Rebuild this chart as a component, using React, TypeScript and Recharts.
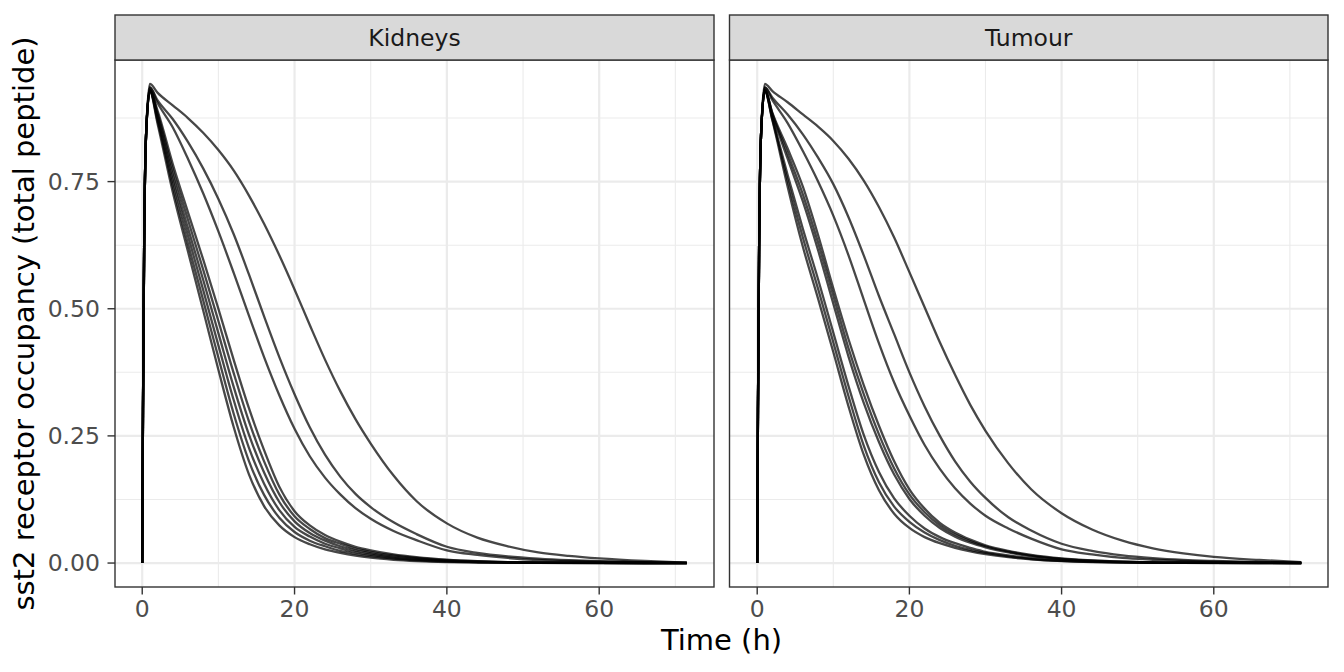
import { LineChart, Line, XAxis, YAxis, CartesianGrid } from 'recharts'

// sampling times (h)
const times = [0, 0.1, 0.25, 0.5, 1, 2, 4, 6, 8, 10, 12, 14, 16, 18, 20, 22, 24, 26, 28, 30, 33, 36, 40, 44, 48, 52, 56, 60, 66, 71.5]

// kidneys, one array per simulated run
const kidneys1 = [0, .3, .62, .84, .942, .925, .9, .875, .846, .812, .772, .723, .667, .605, .538, .468, .4, .338, .283, .235, .172, .122, .078, .05, .033, .021, .014, .009, .004, .001]
const kidneys2 = [0, .3, .62, .84, .935, .91, .873, .828, .776, .716, .647, .568, .485, .405, .332, .267, .213, .17, .136, .11, .08, .057, .032, .02, .013, .0085, .0055, .0036, .0018, .0008]
const kidneys3 = [0, .3, .62, .84, .935, .905, .857, .795, .727, .652, .571, .487, .405, .33, .264, .21, .168, .135, .108, .087, .063, .045, .025, .016, .01, .006, .004, .0025, .0012, .0005]
const kidneys4 = [0, .3, .62, .84, .928, .865, .73, .613, .497, .38, .268, .175, .112, .074, .051, .037, .027, .02, .0145, .0105, .0065, .004, .002, .001, .0005, .00025, .00012, .00006, .00002, 0]
const kidneys5 = [0, .3, .62, .84, .928, .87, .741, .628, .517, .404, .294, .201, .134, .089, .061, .044, .033, .024, .018, .0134, .0086, .0055, .0029, .0015, .0008, .0004, .0002, .0001, .00004, 0]
const kidneys6 = [0, .3, .62, .84, .929, .875, .752, .644, .537, .428, .321, .227, .156, .104, .071, .052, .038, .029, .0215, .0163, .0107, .007, .0038, .0021, .0011, .0006, .0003, .00015, .00006, .00002]
const kidneys7 = [0, .3, .62, .84, .929, .88, .763, .659, .557, .452, .347, .253, .178, .12, .082, .059, .044, .033, .025, .0192, .0128, .0085, .0047, .0026, .0014, .0008, .0004, .0002, .00008, .00003]
const kidneys8 = [0, .3, .62, .84, .93, .885, .774, .675, .577, .476, .374, .279, .2, .135, .092, .067, .049, .038, .0285, .0221, .0149, .01, .0056, .0031, .0017, .0009, .0005, .00025, .0001, .00004]
const kidneys9 = [0, .3, .62, .84, .93, .89, .785, .69, .597, .5, .4, .305, .222, .15, .102, .074, .055, .042, .032, .025, .017, .0115, .0065, .0036, .002, .0011, .0006, .0003, .00012, .00005]

// tumour
const tumour1 = [0, .3, .62, .84, .942, .928, .906, .882, .858, .83, .795, .752, .7, .64, .572, .503, .434, .37, .311, .26, .196, .145, .098, .066, .044, .029, .019, .012, .006, .002]
const tumour2 = [0, .3, .62, .84, .935, .915, .882, .843, .797, .745, .68, .605, .525, .45, .375, .308, .25, .2, .16, .128, .09, .064, .038, .024, .015, .0095, .006, .004, .002, .001]
const tumour3 = [0, .3, .62, .84, .935, .91, .865, .81, .75, .683, .605, .518, .432, .355, .29, .232, .185, .147, .117, .093, .068, .048, .027, .017, .01, .0065, .004, .0025, .0012, .0005]
const tumour4 = [0, .3, .62, .84, .928, .87, .74, .622, .52, .415, .308, .213, .143, .097, .069, .051, .039, .03, .023, .0175, .0115, .0075, .004, .002, .001, .0005, .00025, .00012, .00005, .00002]
const tumour5 = [0, .3, .62, .84, .928, .872, .752, .64, .539, .434, .328, .231, .159, .111, .081, .06, .045, .034, .026, .02, .013, .0079, .0041, .0022, .0012, .0006, .0003, .00015, .00007, .00002]
const tumour6 = [0, .3, .62, .84, .929, .875, .763, .657, .558, .453, .348, .252, .179, .127, .093, .068, .051, .039, .03, .022, .015, .0094, .005, .0027, .0014, .0008, .0004, .0002, .0001, .00003]
const tumour7 = [0, .3, .62, .84, .93, .881, .795, .711, .615, .51, .406, .315, .238, .174, .126, .093, .069, .052, .04, .031, .021, .0136, .0076, .0042, .0023, .0012, .0006, .0003, .00016, .0001]
const tumour8 = [0, .3, .62, .84, .93, .883, .805, .725, .63, .526, .422, .332, .253, .186, .135, .1, .074, .056, .043, .033, .0223, .0148, .0083, .0046, .0025, .0013, .00065, .00035, .00018, .0001]
const tumour9 = [0, .3, .62, .84, .93, .885, .815, .74, .645, .54, .44, .35, .27, .2, .145, .107, .079, .06, .046, .035, .024, .016, .009, .005, .0027, .0014, .0007, .0004, .0002, .0001]

const kidneysRuns = [kidneys1, kidneys2, kidneys3, kidneys4, kidneys5, kidneys6, kidneys7, kidneys8, kidneys9]
const tumourRuns = [tumour1, tumour2, tumour3, tumour4, tumour5, tumour6, tumour7, tumour8, tumour9]

const xMajor = [0, 20, 40, 60]
const xMinor = [10, 30, 50, 70]
const yMajor = [0, 0.25, 0.5, 0.75]
const yMinor = [0.125, 0.375, 0.625, 0.875]

const X_DOMAIN = [-3.575, 75.075]
const Y_DOMAIN = [-0.0471, 0.9891]
const FONT = '"DejaVu Sans", sans-serif'

function toRows(runs: number[][]) {
  return times.map((t, i) => {
    const row: Record<string, number> = { t }
    runs.forEach((r, k) => { row['r' + k] = r[i] })
    return row
  })
}

function Panel({ runs, left, width, showY }: { runs: number[][]; left: number; width: number; showY: boolean }) {
  return (
    <div style={{ position: 'absolute', left, top: 0 }}>
      <LineChart width={width} height={640} data={toRows(runs)} margin={{ top: 60, right: 0, bottom: 0, left: 0 }}>
        <CartesianGrid stroke="#ebebeb" strokeWidth={1.1} horizontalValues={yMinor} verticalValues={xMinor} />
        <CartesianGrid stroke="#ebebeb" strokeWidth={2.2} horizontalValues={yMajor} verticalValues={xMajor} />
        <XAxis
          type="number" dataKey="t" domain={X_DOMAIN} ticks={xMajor} interval={0} allowDataOverflow
          height={53} axisLine={false} tickSize={7.5} tickMargin={6}
          tickLine={{ stroke: '#333333', strokeWidth: 1.4 }}
          tick={{ fill: '#4d4d4d', fontSize: 23.5, fontFamily: FONT }}
        />
        <YAxis
          type="number" domain={Y_DOMAIN} ticks={yMajor} interval={0} allowDataOverflow hide={!showY}
          width={115} axisLine={false} tickSize={7.5} tickMargin={7.5}
          tickLine={{ stroke: '#333333', strokeWidth: 1.4 }}
          tick={{ fill: '#4d4d4d', fontSize: 23.5, fontFamily: FONT }}
          tickFormatter={(v: number) => v.toFixed(2)}
        />
        {runs.map((_, k) => (
          <Line key={k} dataKey={'r' + k} type="monotone" stroke="#000" strokeOpacity={0.72}
            strokeWidth={2.3} dot={false} activeDot={false} isAnimationActive={false} />
        ))}
      </LineChart>
    </div>
  )
}

const panels = [
  { name: 'Kidneys', x0: 115, x1: 714 },
  { name: 'Tumour', x0: 729.5, x1: 1328 },
]

export default function App() {
  return (
    <div style={{ position: 'absolute', left: 0, top: 0, width: 1344, height: 672, background: '#fff', fontFamily: FONT }}>
      <Panel runs={kidneysRuns} left={0} width={714} showY />
      <Panel runs={tumourRuns} left={729.5} width={598.5} showY={false} />
      <svg width={1344} height={672} style={{ position: 'absolute', left: 0, top: 0, pointerEvents: 'none' }}>
        {panels.map((p) => (
          <g key={p.name}>
            <rect x={p.x0} y={60} width={p.x1 - p.x0} height={527} fill="none" stroke="#333333" strokeWidth={1.4} />
            <rect x={p.x0} y={15} width={p.x1 - p.x0} height={45} fill="#d9d9d9" stroke="#333333" strokeWidth={1.4} />
            <text x={(p.x0 + p.x1) / 2} y={46} textAnchor="middle" fontSize={23.5} fill="#1a1a1a" fontFamily={FONT}>{p.name}</text>
          </g>
        ))}
        <text x={721.5} y={650} textAnchor="middle" fontSize={29} fill="#000" fontFamily={FONT}>Time (h)</text>
        <text transform="translate(33.5,323.5) rotate(-90)" textAnchor="middle" fontSize={29} fill="#000" fontFamily={FONT}>
          sst2 receptor occupancy (total peptide)
        </text>
      </svg>
    </div>
  )
}
